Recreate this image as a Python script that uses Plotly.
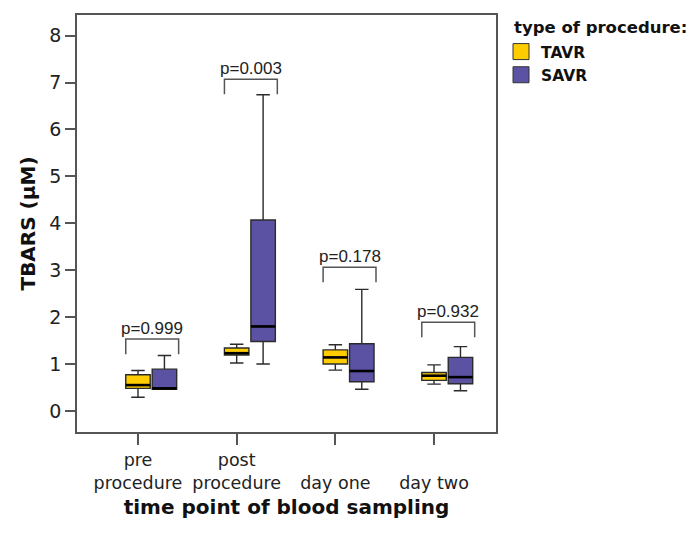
import plotly.graph_objects as go

# ---- data ----
timepoints = ["pre<br>procedure", "post<br>procedure", "<br>day one", "<br>day two"]
groups = ["TAVR", "SAVR"]
colors = {"TAVR": "#FFCC00", "SAVR": "#5B52A3"}

tavr_lower = [0.29, 1.02, 0.87, 0.57]
tavr_q1 = [0.48, 1.19, 1.00, 0.65]
tavr_median = [0.55, 1.23, 1.14, 0.75]
tavr_q3 = [0.77, 1.34, 1.30, 0.82]
tavr_upper = [0.86, 1.42, 1.41, 0.98]

savr_lower = [0.46, 1.00, 0.46, 0.43]
savr_q1 = [0.46, 1.48, 0.62, 0.58]
savr_median = [0.48, 1.80, 0.85, 0.72]
savr_q3 = [0.89, 4.07, 1.43, 1.14]
savr_upper = [1.18, 6.74, 2.59, 1.37]

p_values = ["p=0.999", "p=0.003", "p=0.178", "p=0.932"]
bracket_top = [1.53, 7.07, 3.06, 1.89]
bracket_drop = 0.32

# ---- layout helpers ----
box_w = 0.248
offsets = {"TAVR": 0.0, "SAVR": 0.268}
idx = list(range(len(timepoints)))

stats = {
    "TAVR": (tavr_lower, tavr_q1, tavr_median, tavr_q3, tavr_upper),
    "SAVR": (savr_lower, savr_q1, savr_median, savr_q3, savr_upper),
}

fig = go.Figure()
for g in groups:
    lo, q1, med, q3, up = stats[g]
    xs = [i + offsets[g] for i in idx]
    fig.add_trace(go.Box(
        x=xs, lowerfence=lo, q1=q1, median=med, q3=q3, upperfence=up,
        width=box_w, whiskerwidth=0.55,
        fillcolor=colors[g], line=dict(color="#2b2b2b", width=1.4),
        showlegend=False, hoverinfo="skip",
    ))
    # thick median lines
    mx, my = [], []
    for x, m in zip(xs, med):
        mx += [x - box_w / 2, x + box_w / 2, None]
        my += [m, m, None]
    fig.add_trace(go.Scatter(x=mx, y=my, mode="lines",
                             line=dict(color="#000000", width=2.6),
                             showlegend=False, hoverinfo="skip"))
    # legend entries
    fig.add_trace(go.Scatter(x=[None], y=[None], mode="markers", name="<b>" + g + "</b>",
                             marker=dict(symbol="square", size=16, color=colors[g],
                                         line=dict(color="#333333", width=1))))

# brackets with p values
bx, by = [], []
left_off = -box_w / 2
right_off = offsets["SAVR"] + box_w / 2 + 0.02
for i, top in zip(idx, bracket_top):
    bx += [i + left_off, i + left_off, i + right_off, i + right_off, None]
    by += [top - bracket_drop, top, top, top - bracket_drop, None]
fig.add_trace(go.Scatter(x=bx, y=by, mode="lines",
                         line=dict(color="#555555", width=1.5),
                         showlegend=False, hoverinfo="skip"))
for i, top, p in zip(idx, bracket_top, p_values):
    fig.add_annotation(x=i + (left_off + right_off) / 2, y=top, text=p,
                       showarrow=False, yanchor="bottom", yshift=-1,
                       font=dict(family="Liberation Sans, Arial", size=17, color="#222222"))

# legend title as a separate annotation
fig.add_annotation(xref="paper", yref="paper", x=1.038, y=0.969,
                   xanchor="left", yanchor="middle", showarrow=False,
                   text="<b>type of procedure:</b>",
                   font=dict(size=16.5, family="DejaVu Sans", color="#111111"))

axis_line = dict(showline=True, linecolor="#555555", linewidth=1.5, mirror=True,
                 ticks="outside", tickcolor="#555555", tickwidth=1.5,
                 showgrid=False, zeroline=False, automargin=False)

fig.update_layout(
    width=693, height=534,
    margin=dict(l=77, r=197, t=15, b=102, autoexpand=False),
    paper_bgcolor="white", plot_bgcolor="white",
    font=dict(family="DejaVu Sans", color="#222222"),
    xaxis=dict(range=[-0.618, 3.628], tickvals=idx, ticktext=timepoints,
               ticklen=11, tickfont=dict(size=17.5, family="DejaVu Sans"),
               title=dict(text="<b>time point of blood sampling</b>",
                          font=dict(size=20, family="DejaVu Sans", color="#111111"),
                          standoff=8),
               **axis_line),
    yaxis=dict(range=[-0.45, 8.44], tickvals=list(range(9)),
               ticklen=10, tickfont=dict(size=19, family="DejaVu Sans"),
               title=dict(text="<b>TBARS (μM)</b>",
                          font=dict(size=20, family="DejaVu Sans", color="#111111"),
                          standoff=8),
               **axis_line),
    legend=dict(x=1.012, y=0.952, xanchor="left", yanchor="top",
                font=dict(size=15.5, family="DejaVu Sans", color="#111111"),
                itemsizing="trace", tracegroupgap=0, bgcolor="rgba(0,0,0,0)"),
)

fig.write_html("out.html", config={"displayModeBar": False},
               post_script="document.body.style.margin='0';")
